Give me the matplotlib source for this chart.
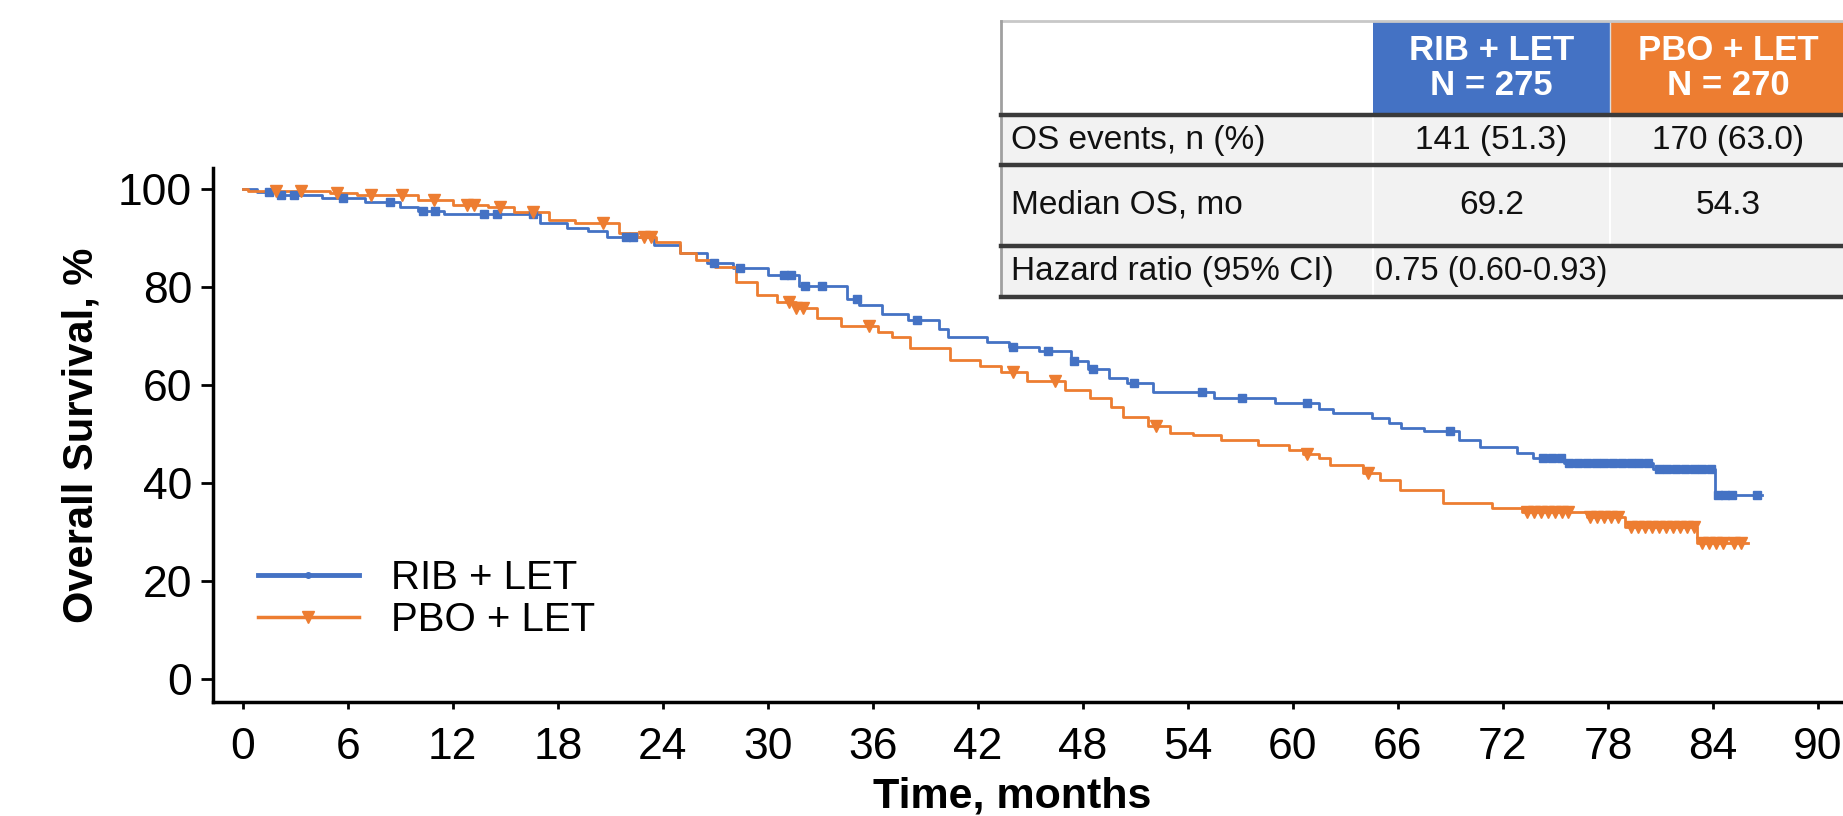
import numpy as np
import matplotlib
matplotlib.use("Agg")
import matplotlib.pyplot as plt
from matplotlib.patches import Rectangle
from matplotlib.lines import Line2D

plt.rcParams['font.family'] = ['Liberation Sans', 'DejaVu Sans']

# Kaplan-Meier estimates (months, % alive)
rib_times = [0, 0.8, 2.0, 4.5, 7.0, 9.0, 10.0, 11.5, 17.0, 18.5, 19.7, 20.8, 23.5,
             25.0, 26.5, 28.0, 30.0, 31.8, 34.5, 35.2, 36.5, 38.0, 39.8, 40.3, 42.5,
             43.8, 45.5, 47.3, 48.3, 49.5, 50.5, 52.0, 55.5, 59.0, 61.5, 62.3, 64.5,
             65.5, 66.2, 67.5, 69.5, 70.7, 72.8, 73.7, 75.5, 80.6, 84.1]
rib_surv = [100, 99.4, 98.8, 98.2, 97.3, 96.3, 95.5, 94.9, 93.1, 92.0, 91.4, 90.2, 88.6,
            87.0, 85.0, 83.8, 82.5, 80.2, 77.5, 76.3, 74.5, 73.3, 71.5, 69.8, 68.8,
            67.8, 67.0, 65.0, 63.2, 61.5, 60.4, 58.6, 57.3, 56.3, 55.1, 54.2, 53.3,
            52.2, 51.2, 50.6, 48.8, 47.3, 46.2, 45.1, 44.1, 42.9, 37.5]
rib_end = 86.8
rib_censor = [1.5, 2.2, 2.9, 5.7, 8.4, 10.3, 11.0, 13.8, 14.5, 16.6, 21.9, 22.3, 26.9,
              28.4, 30.9, 31.3, 32.1, 33.1, 35.1, 38.5, 44.0, 46.0, 47.5, 48.6, 50.9,
              54.8, 57.1, 60.8, 69.0, 74.3, 74.8, 75.3, 75.8, 76.3, 76.8, 77.3, 77.8,
              78.3, 78.8, 79.3, 79.8, 80.3, 80.9, 81.4, 81.9, 82.4, 82.9, 83.4, 83.9,
              84.3, 84.7, 85.1, 86.5]

pbo_times = [0, 0.3, 5.0, 6.5, 10.0, 12.0, 14.0, 15.5, 17.5, 19.0, 21.5, 22.5, 23.6,
             25.0, 25.9, 27.0, 28.2, 29.4, 30.5, 31.6, 32.8, 34.2, 36.3, 37.1, 38.1,
             40.4, 42.1, 43.3, 44.8, 47.0, 48.4, 49.6, 50.3, 51.7, 53.0, 54.3, 55.9,
             58.0, 59.8, 60.6, 61.5, 62.1, 64.0, 65.0, 66.1, 68.6, 71.4, 73.1, 76.8,
             79.0, 83.1]
pbo_surv = [100, 99.6, 99.2, 98.8, 97.8, 96.7, 96.3, 95.3, 93.7, 93.1, 91.0, 90.2, 89.2,
            87.0, 85.5, 84.1, 81.0, 78.4, 77.0, 75.8, 73.7, 72.0, 70.8, 69.8, 67.6,
            65.1, 63.9, 62.7, 60.8, 59.0, 57.3, 55.5, 53.5, 51.6, 50.2, 49.8, 48.8,
            47.8, 46.7, 45.9, 45.1, 43.7, 42.0, 40.6, 38.6, 35.9, 34.9, 34.1, 33.1,
            31.0, 27.8]
pbo_end = 86.0
pbo_censor = [1.9, 3.3, 5.4, 7.3, 9.1, 10.9, 12.8, 13.2, 14.7, 16.6, 20.6, 22.9, 23.3,
              31.2, 31.6, 32.0, 35.8, 44.0, 46.4, 52.2, 60.8, 64.3,
              73.4, 73.8, 74.2, 74.6, 75.0, 75.4, 75.7, 77.0, 77.4, 77.8, 78.2, 78.6,
              79.3, 79.7, 80.1, 80.5, 80.9, 81.3, 81.7, 82.1, 82.5, 82.9,
              83.4, 83.8, 84.2, 84.6, 85.2, 85.6]

x_ticks = [0, 6, 12, 18, 24, 30, 36, 42, 48, 54, 60, 66, 72, 78, 84, 90]
y_ticks = [0, 20, 40, 60, 80, 100]

table_header = ["RIB + LET\nN = 275", "PBO + LET\nN = 270"]
table_rows = ["OS events, n (%)", "Median OS, mo", "Hazard ratio (95% CI)"]
table_rib = ["141 (51.3)", "69.2"]
table_pbo = ["170 (63.0)", "54.3"]
table_hr = "0.75 (0.60-0.93)"

BLUE = "#4472C4"
ORANGE = "#ED7D31"

W, H = 1843, 816
fig = plt.figure(figsize=(W / 100, H / 100), dpi=100)
ax = fig.add_axes([213 / W, 1 - 702 / H, 1 - 213 / W, (702 - 168) / H])


def km_step(times, surv, end):
    t = np.append(times, end)
    s = np.append(surv, surv[-1])
    return t, s


def at_censor(times, surv, ct):
    idx = np.searchsorted(times, ct, side='right') - 1
    return np.asarray(surv)[idx]


t, s = km_step(rib_times, rib_surv, rib_end)
ax.step(t, s, where='post', color=BLUE, lw=2.0, zorder=3)
ax.plot(rib_censor, at_censor(rib_times, rib_surv, rib_censor), 's', color=BLUE,
        ms=6, mec=BLUE, zorder=4, ls='none')

t, s = km_step(pbo_times, pbo_surv, pbo_end)
ax.step(t, s, where='post', color=ORANGE, lw=2.0, zorder=3)
ax.plot(pbo_censor, at_censor(pbo_times, pbo_surv, pbo_censor), 'v', color=ORANGE,
        ms=9, mec=ORANGE, zorder=4, ls='none')

ax.set_xlim(-1.7, 91.43)
ax.set_ylim(-4.7, 104.3)
ax.set_xticks(x_ticks)
ax.set_yticks(y_ticks)
for side in ['top', 'right']:
    ax.spines[side].set_visible(False)
for side in ['left', 'bottom']:
    ax.spines[side].set_linewidth(2.5)
ax.tick_params(axis='x', direction='out', length=5, width=2, labelsize=32, pad=13)
ax.tick_params(axis='y', direction='out', length=9, width=2, labelsize=32, pad=6)
ax.set_xlabel("Time, months", fontsize=31, fontweight='bold', labelpad=0)
ax.set_ylabel("Overall Survival, %", fontsize=30, fontweight='bold', labelpad=12)
ax.xaxis.set_label_coords(0.49, -0.14)

handles = [Line2D([], [], color=BLUE, lw=3.5, marker='o', ms=4),
           Line2D([], [], color=ORANGE, lw=2.5, marker='v', ms=9)]
ax.legend(handles, ["RIB + LET", "PBO + LET"], loc='lower left',
          bbox_to_anchor=(0.0276, 0.118), frameon=False, fontsize=29,
          handlelength=2.5, handletextpad=0.8, labelspacing=0.1,
          borderpad=0, borderaxespad=0)


# summary table drawn in figure pixels
def box(x0, y0, x1, y1, color, **kw):
    fig.patches.append(Rectangle((x0 / W, 1 - y1 / H), (x1 - x0) / W, (y1 - y0) / H,
                                 transform=fig.transFigure, facecolor=color,
                                 edgecolor='none', **kw))


def hline(x0, x1, y, color, lw):
    fig.lines.append(Line2D([x0 / W, x1 / W], [1 - y / H, 1 - y / H],
                            transform=fig.transFigure, color=color, lw=lw))


def vline(x, y0, y1, color, lw):
    fig.lines.append(Line2D([x / W, x / W], [1 - y0 / H, 1 - y1 / H],
                            transform=fig.transFigure, color=color, lw=lw))


cols = [1001, 1373, 1610, 1846]
rows = [21, 115, 165, 246, 297]

box(cols[0], rows[0], cols[3], rows[1], 'white')
box(cols[1], rows[0], cols[2], rows[1], BLUE)
box(cols[2], rows[0], cols[3], rows[1], ORANGE)
box(cols[0], rows[1], cols[3], rows[4], '#F2F2F2')
vline(cols[1], rows[1], rows[4], 'white', 1.5)
vline(cols[2], rows[1], rows[3], 'white', 1.5)
vline(cols[2], rows[0], rows[1], '#DDDDDD', 1)
hline(cols[0], cols[3], rows[0], '#C8C8C8', 2)
vline(cols[0], rows[0], rows[4], '#A0A0A0', 2)
for yy in rows[1:]:
    hline(cols[0], cols[3], yy, '#3A3A3A', 3.2)

for i, txt in enumerate(table_header):
    cx = (cols[i + 1] + cols[i + 2]) / 2
    fig.text(cx / W, 1 - (rows[0] + rows[1]) / 2 / H, txt, color='white',
             fontsize=25, fontweight='bold', ha='center', va='center',
             linespacing=1.1)

for i, txt in enumerate(table_rows):
    cy = (rows[i + 1] + rows[i + 2]) / 2
    fig.text((cols[0] + 10) / W, 1 - cy / H, txt, fontsize=24, ha='left',
             va='center', color='#111111')

for i in range(2):
    cy = (rows[i + 1] + rows[i + 2]) / 2
    fig.text((cols[1] + cols[2]) / 2 / W, 1 - cy / H, table_rib[i], fontsize=24,
             ha='center', va='center', color='#111111')
    fig.text((cols[2] + cols[3]) / 2 / W, 1 - cy / H, table_pbo[i], fontsize=24,
             ha='center', va='center', color='#111111')

cy = (rows[3] + rows[4]) / 2
fig.text((cols[1] + cols[2]) / 2 / W, 1 - cy / H, table_hr, fontsize=23.5,
         ha='center', va='center', color='#111111')

fig.savefig("out.png", dpi=100)
